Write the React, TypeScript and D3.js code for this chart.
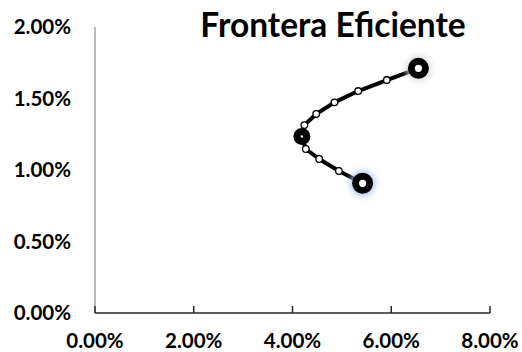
import React from "react";
import * as d3 from "d3";

// Portfolio risk (x) and expected return (y) along the efficient frontier
const riskValues = [0.0542, 0.0494, 0.0454, 0.0427, 0.0419, 0.0424, 0.0448, 0.0485, 0.0533, 0.0591, 0.0655];
const returnValues = [0.00907, 0.00993, 0.01077, 0.01147, 0.01234, 0.01314, 0.01392, 0.01473, 0.01552, 0.01629, 0.01711];
// Marker style for each portfolio: end points, minimum-variance point, intermediate points
const markerKinds = ["startEnd", "small", "small", "small", "minVar", "small", "small", "small", "small", "small", "topEnd"];

const xTicks = [0, 0.02, 0.04, 0.06, 0.08];
const yTicks = [0, 0.005, 0.01, 0.015, 0.02];
const title = "Frontera Eficiente";

const W = 522;
const H = 352;
const FONT = "Lato, 'Open Sans', sans-serif";

export default function App() {
  const x = d3.scaleLinear().domain([0, 0.08]).range([95, 490]);
  const y = d3.scaleLinear().domain([0, 0.02]).range([313, 27]);
  const fmt = d3.format(".2%");

  const points = riskValues.map((r, i) => ({ r, v: returnValues[i], kind: markerKinds[i] }));
  const line = d3
    .line<{ r: number; v: number }>()
    .x((d) => x(d.r))
    .y((d) => y(d.v));

  return (
    <svg
      width={W}
      height={H}
      style={{ position: "absolute", left: 0, top: 0, background: "#fff" }}
      fontFamily={FONT}
    >
      <defs>
        <filter id="glow" x="-100%" y="-100%" width="300%" height="300%">
          <feGaussianBlur stdDeviation="3" />
        </filter>
      </defs>
      <rect width={W} height={H} fill="#fff" />

      {/* title */}
      <text x={333} y={36.5} textAnchor="middle" fontSize={33.5} fontWeight={700} fill="#000">
        {title}
      </text>

      {/* y axis */}
      <line x1={x(0)} x2={x(0)} y1={y(0.02)} y2={y(0)} stroke="#8c8c8c" strokeWidth={1.2} />
      {yTicks.map((t) => (
        <text
          key={"y" + t}
          x={71}
          y={y(t)}
          dy="0.36em"
          textAnchor="end"
          fontSize={20.5}
          fontWeight={700}
          fill="#000"
        >
          {fmt(t)}
        </text>
      ))}

      {/* x axis */}
      <line x1={x(0)} x2={x(0.08)} y1={y(0)} y2={y(0)} stroke="#262626" strokeWidth={1.5} />
      {xTicks.map((t) => (
        <g key={"x" + t}>
          <line x1={x(t)} x2={x(t)} y1={y(0)} y2={y(0) - 7} stroke="#262626" strokeWidth={1.5} />
          <text x={x(t)} y={348} textAnchor="middle" fontSize={20.5} fontWeight={700} fill="#000">
            {fmt(t)}
          </text>
        </g>
      ))}

      {/* frontier line */}
      <path d={line(points) ?? ""} fill="none" stroke="#000" strokeWidth={4} strokeLinejoin="round" />

      {/* markers */}
      {points.map((p, i) => {
        const cx = x(p.r);
        const cy = y(p.v);
        if (p.kind === "small") {
          return <circle key={i} cx={cx} cy={cy} r={3.3} fill="#fff" stroke="#000" strokeWidth={1.3} />;
        }
        if (p.kind === "minVar") {
          return (
            <g key={i}>
              <circle cx={cx} cy={cy} r={8.5} fill="#000" />
              <circle cx={cx} cy={cy} r={1.2} fill="#fff" />
            </g>
          );
        }
        const glowColor = p.kind === "startEnd" ? "#a9c0f0" : "#d8d8d8";
        return (
          <g key={i}>
            <circle cx={cx} cy={cy} r={12.5} fill={glowColor} filter="url(#glow)" opacity={0.9} />
            <circle cx={cx} cy={cy} r={10.5} fill="#000" />
            <circle cx={cx} cy={cy} r={3.6} fill="#fff" />
          </g>
        );
      })}
    </svg>
  );
}
